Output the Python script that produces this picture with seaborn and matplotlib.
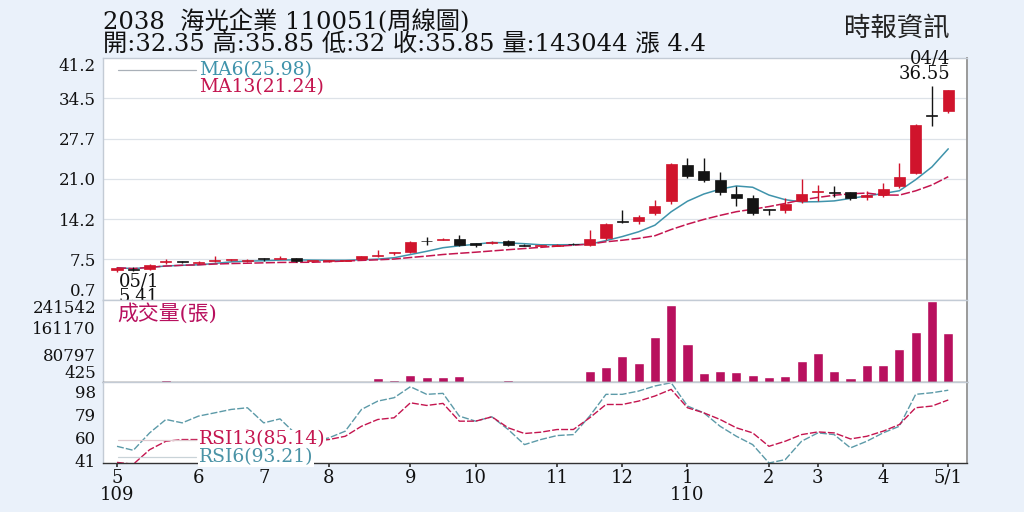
import numpy as np
import pandas as pd
import matplotlib
matplotlib.use("Agg")
import matplotlib.pyplot as plt
import matplotlib.transforms as mtrans
import seaborn as sns

# weekly candles, 109/05 .. 110/04
opens = [5.8, 5.9, 5.9, 7.0, 7.1, 6.9, 7.3, 7.4, 7.3, 7.6, 7.6, 7.7, 7.2, 7.2, 7.3, 7.5, 8.0, 8.5,
         8.7, 10.6, 10.8, 10.9, 10.2, 10.2, 10.6, 9.9, 9.8, 9.8, 10.1, 9.9, 11.0, 13.9, 13.9, 15.2,
         17.2, 23.3, 22.3, 20.8, 18.5, 17.8, 15.9, 15.7, 17.2, 18.7, 18.7, 18.8, 17.9, 18.2, 19.7,
         22.0, 31.6, 32.35]
highs = [6.2, 6.2, 6.7, 7.6, 7.3, 7.2, 8.0, 7.6, 7.5, 7.8, 8.0, 7.8, 7.3, 7.4, 7.4, 8.1, 9.0, 8.8,
         10.5, 11.2, 11.0, 11.5, 10.3, 10.5, 10.7, 10.0, 9.9, 10.1, 10.2, 12.4, 13.6, 15.7, 15.0, 17.5,
         23.6, 24.5, 24.5, 22.2, 19.7, 18.2, 16.0, 17.7, 21.0, 20.0, 19.8, 18.8, 18.9, 20.2, 23.6,
         30.1, 36.55, 35.85]
lows = [5.41, 5.6, 5.8, 6.8, 6.9, 6.7, 7.1, 7.3, 7.1, 7.3, 7.5, 7.1, 7.1, 7.1, 7.2, 7.4, 7.9, 8.3,
        8.6, 9.9, 10.7, 9.8, 9.5, 10.1, 9.8, 9.7, 9.7, 9.7, 9.9, 9.8, 10.7, 13.6, 13.4, 14.9,
        16.8, 21.2, 20.5, 18.3, 16.5, 15.0, 15.0, 15.2, 17.0, 17.3, 18.0, 17.5, 17.4, 18.0, 19.5,
        21.8, 29.8, 32.0]
closes = [6.1, 5.8, 6.6, 7.05, 7.0, 7.0, 7.45, 7.4, 7.3, 7.5, 7.65, 7.2, 7.2, 7.25, 7.3, 8.0, 8.3, 8.6,
          10.4, 10.5, 10.9, 9.9, 9.9, 10.4, 9.9, 9.75, 9.8, 9.9, 10.0, 10.9, 13.5, 13.8, 14.6, 16.5,
          23.5, 21.5, 20.7, 18.7, 17.8, 15.2, 15.7, 16.8, 18.5, 18.9, 18.6, 17.7, 18.2, 19.2, 21.3,
          30.0, 31.45, 35.85]
volume = [1500, 1200, 1800, 6800, 4000, 3900, 4800, 1000, 900, 1100, 2000, 900, 700, 800, 900, 1300,
          11000, 6000, 21500, 16000, 16000, 18500, 3200, 3000, 6000, 1500, 3200, 900, 1200, 31500,
          46000, 77500, 56000, 134000, 227000, 112500, 27000, 34000, 29000, 21000, 15000, 18800,
          63000, 84500, 31500, 12500, 51000, 51000, 96500, 148500, 239000, 143044]
rsi6 = [46.8, 43.5, 57.9, 69.0, 66.2, 71.8, 74.5, 77.3, 78.7, 66.2, 69.5, 56.5, 51.0, 53.8, 59.3, 77.3,
        84.2, 87.0, 96.1, 89.8, 90.6, 71.8, 67.6, 71.2, 60.7, 48.2, 52.4, 55.7, 56.5, 71.8, 89.8, 89.8,
        92.5, 96.7, 99.4, 80.1, 74.5, 63.4, 55.1, 48.2, 33.0, 35.8, 51.0, 57.9, 56.5, 45.5, 51.0, 57.9,
        63.4, 89.8, 91.1, 93.21]
rsi13 = [33.5, 32.0, 44.0, 51.0, 52.4, 52.4, 55.1, 56.5, 60.1, 56.5, 57.9, 53.8, 51.0, 52.4, 55.1, 63.4,
         69.0, 70.4, 82.8, 80.6, 82.3, 67.6, 67.6, 71.2, 62.1, 57.4, 58.5, 60.7, 60.7, 70.4, 81.4, 81.4,
         84.2, 88.4, 93.9, 78.7, 74.5, 69.0, 62.1, 57.9, 46.8, 51.0, 56.5, 58.7, 57.9, 52.9, 55.1, 59.3,
         64.8, 78.7, 80.1, 85.14]

month_ticks = [0, 5, 9, 13, 18, 22, 27, 31, 35, 40, 43, 47, 51]
month_labels = ["5\n109", "6", "7", "8", "9", "10", "11", "12", "1\n110", "2", "3", "4", "5/1"]
price_ticks = [0.7, 7.5, 14.2, 21.0, 27.7, 34.5, 41.2]
vol_ticks = [425, 80797, 161170, 241542]
rsi_ticks = [41, 60, 79, 98]

df = pd.DataFrame({"open": opens, "high": highs, "low": lows, "close": closes,
                   "vol": volume, "rsi6": rsi6, "rsi13": rsi13})
df["k"] = np.arange(len(df))
df["ma6"] = df["close"].rolling(6, min_periods=1).mean()
df["ma13"] = df["close"].rolling(13, min_periods=1).mean()

sns.set_theme(style="white")
plt.rcParams["font.family"] = ["DejaVu Serif", "Noto Sans CJK TC"]

RED = "#d0142c"
BLK = "#141414"
TEAL = "#3f93ab"
CRIM = "#c4154f"
MAG = "#b8105e"
EDGE = "#c3cbd5"

fig = plt.figure(figsize=(10.24, 5.12), dpi=100, facecolor="#eaf1fa")
L, W = 103 / 1024, 864 / 1024
ax_p = fig.add_axes([L, 212 / 512, W, 242 / 512])
ax_v = fig.add_axes([L, 130 / 512, W, 82 / 512], sharex=ax_p)
ax_r = fig.add_axes([L, 49 / 512, W, 81 / 512], sharex=ax_p)

# ---- price panel
for v in price_ticks[1:-1]:
    ax_p.axhline(v, color="#dde2e8", lw=0.9, zorder=0)
up = df["close"] >= df["open"]
cols = np.where(up, RED, BLK)
ax_p.vlines(df["k"], df["low"], df["high"], colors=cols, lw=1.0, zorder=2)
body = (df["close"] - df["open"]).abs().clip(lower=0.15)
ax_p.bar(df["k"], body, bottom=df[["open", "close"]].min(axis=1), width=0.68,
         color=cols, edgecolor=cols, lw=0.5, zorder=3)
sns.lineplot(data=df, x="k", y="ma6", ax=ax_p, color=TEAL, lw=1.1, zorder=1)
sns.lineplot(data=df, x="k", y="ma13", ax=ax_p, color=CRIM, lw=1.1, zorder=1,
             linestyle=(0, (6, 1.5)))
ax_p.set_ylim(0.7, 41.2)
ax_p.set_xlim(-0.86, 52.15)
ax_p.set_yticks(price_ticks)
ax_p.set_yticklabels([f"{v:.1f}" for v in price_ticks])

ax_p.plot([0.017, 0.108], [0.95, 0.95], transform=ax_p.transAxes, color="#a9b0b8", lw=0.9)
ax_p.text(0.111, 0.95, "MA6(25.98)", transform=ax_p.transAxes, color=TEAL, fontsize=13.5, va="center")
ax_p.text(0.111, 0.88, "MA13(21.24)", transform=ax_p.transAxes, color=CRIM, fontsize=13.5, va="center")
ax_p.text(0.1, 5.3, "05/1\n5.41", fontsize=13, color="#111", va="top", ha="left", linespacing=0.8)
ax_p.text(51.1, 37.0, "04/4\n36.55", fontsize=13, color="#111", va="bottom", ha="right",
          linespacing=0.8)

# ---- volume panel
sns.barplot(x=df["k"], y=df["vol"], native_scale=True, color=MAG, width=0.62,
            saturation=1, ax=ax_v, zorder=2)
ax_v.set_ylim(425, 241542)
ax_v.set_yticks(vol_ticks)
ax_v.set_yticklabels([str(v) for v in vol_ticks])
ax_v.text(0.017, 0.84, "成交量(張)", transform=ax_v.transAxes, color=MAG, fontsize=15, va="center")

# ---- RSI panel
sns.lineplot(data=df, x="k", y="rsi6", ax=ax_r, color="#5c9aa8", lw=1.0, linestyle=(0, (5, 1.5)))
sns.lineplot(data=df, x="k", y="rsi13", ax=ax_r, color=CRIM, lw=1.0, linestyle=(0, (5, 1.5)))
ax_r.set_ylim(33, 100)
ax_r.set_yticks(rsi_ticks)
ax_r.set_yticklabels([str(v) for v in rsi_ticks])
ax_r.plot([0.017, 0.108], [0.29, 0.29], transform=ax_r.transAxes, color="#dfc9cf", lw=0.9)
ax_r.plot([0.017, 0.108], [0.075, 0.075], transform=ax_r.transAxes, color="#c9d3d8", lw=0.9)
box = dict(facecolor="white", edgecolor="none", pad=0.5)
ax_r.text(0.111, 0.29, "RSI13(85.14)", transform=ax_r.transAxes, color=CRIM, fontsize=13.5,
          va="center", bbox=box, zorder=5)
ax_r.text(0.111, 0.075, "RSI6(93.21)", transform=ax_r.transAxes, color="#4a93a6", fontsize=13.5,
          va="center", bbox=box, zorder=5)
ax_r.set_xticks(month_ticks)
ax_r.set_xticklabels(month_labels, fontsize=13, linespacing=0.95)

for ax in (ax_p, ax_v, ax_r):
    ax.set_facecolor("white")
    ax.set_xlabel("")
    ax.set_ylabel("")
    ax.tick_params(axis="y", labelsize=12, length=3, color="#999", pad=2, labelcolor="#111")
    for s in ax.spines.values():
        s.set_color(EDGE)
        s.set_linewidth(1.0)
    ax.spines["right"].set_color("#9a9a9a")
    ax.spines["right"].set_linewidth(1.4)
for ax in (ax_p, ax_v):
    ax.tick_params(axis="x", bottom=False, labelbottom=False)
ax_v.spines["bottom"].set_color("#333")
ax_r.spines["bottom"].set_color("#333")
ax_r.tick_params(axis="x", length=3, color="#333", pad=1, labelcolor="#111", bottom=True)

# keep edge labels inside their panels
for ax in (ax_p, ax_v):
    labs = ax.get_yticklabels()
    labs[0].set_va("bottom")
    labs[-1].set_va("top")
shift = mtrans.ScaledTranslation(0, -5 / 72, fig.dpi_scale_trans)
for lab in ax_r.get_yticklabels():
    lab.set_transform(lab.get_transform() + shift)

# ---- header
fig.text(L, 0.959, "2038  海光企業 110051(周線圖)", fontsize=17.5, color="#111", va="center")
fig.text(L, 0.914, "開:32.35 高:35.85 低:32 收:35.85 量:143044 漲 4.4", fontsize=17.5,
         color="#111", va="center")
fig.text(0.876, 0.945, "時報資訊", fontsize=19, color="#222", va="center", ha="center",
         family=["Noto Sans CJK TC"])

fig.savefig("out.png", dpi=100, facecolor=fig.get_facecolor())
